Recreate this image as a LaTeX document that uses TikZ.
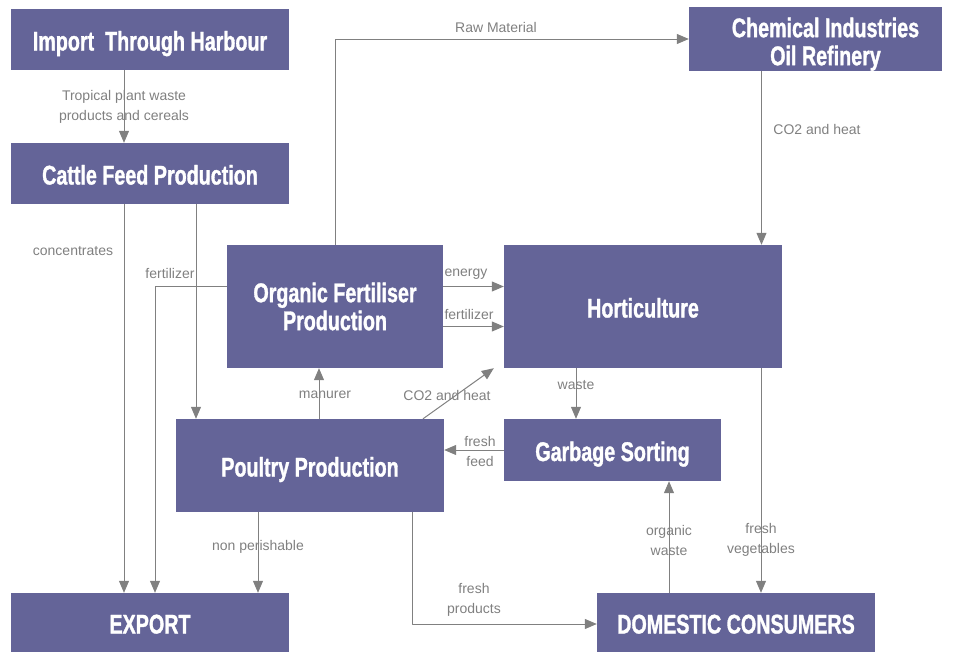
\documentclass[tikz,border=0pt]{standalone}
\usepackage{fontspec}
\setmainfont{Liberation Sans}
\newfontfamily\boxfont[FakeStretch=0.73,BoldFeatures={FakeBold=1.2}]{Liberation Sans}
\usetikzlibrary{arrows.meta}
\definecolor{boxfill}{HTML}{646498}
\definecolor{flowgray}{HTML}{808080}
\begin{document}
\begin{tikzpicture}[>={Triangle[length=12bp,width=10bp]},line join=bevel,
  box/.style={fill=boxfill,draw=none,text=white,inner sep=0pt,align=center,
    font=\boxfont\bfseries\fontsize{27bp}{28bp}\selectfont},
  oneline/.style={text height=22bp,text depth=0pt},
  lbl/.style={text=flowgray,inner sep=0pt,align=center,
    font=\fontsize{14bp}{20bp}\selectfont},
  flow/.style={flowgray,line width=1bp,->}]
\useasboundingbox (0bp,0bp) rectangle (955bp,-652bp);
%%
\node (harbour) at (150bp,-39.5bp) [box,oneline,minimum width=278bp,minimum height=61bp] {Import\ \ Through Harbour};
  \node (cattle) at (150bp,-173.5bp) [box,oneline,minimum width=278bp,minimum height=61bp] {Cattle Feed Production};
  \node (chem) at (815.5bp,-39bp) [box,minimum width=253bp,minimum height=62bp] {\hspace*{20bp}\rule{0pt}{30bp}Chemical Industries\\\hspace*{20bp}Oil Refinery};
  \node (organic) at (335bp,-306.5bp) [box,minimum width=216bp,minimum height=123bp] {Organic Fertiliser\\Production};
  \node (hort) at (643bp,-306.5bp) [box,oneline,minimum width=278bp,minimum height=123bp] {Horticulture};
  \node (garbage) at (612.5bp,-450bp) [box,oneline,minimum width=217bp,minimum height=62bp] {Garbage Sorting};
  \node (poultry) at (310bp,-465.5bp) [box,oneline,minimum width=268bp,minimum height=93bp] {Poultry Production};
  \node (export) at (150bp,-622.5bp) [box,oneline,minimum width=278bp,minimum height=59bp] {EXPORT};
  \node (domestic) at (736bp,-622.5bp) [box,oneline,minimum width=278bp,minimum height=59bp] {DOMESTIC CONSUMERS};
%
  \draw [flow] ([xshift=-26bp]harbour.south) -- ([xshift=-26bp]cattle.north);
  \draw [flow] ([xshift=-26bp]cattle.south) -- ([xshift=-26bp]export.north);
  \draw [flow] ([xshift=46bp]cattle.south) -- ([xshift=46bp]cattle.south |- poultry.north);
  \draw [flow] ([yshift=20bp]organic.west) -| ([xshift=5bp]export.north);
  \draw [flow] (organic.north) |- (chem.west);
  \draw [flow] ([xshift=-54bp]chem.south) -- ([xshift=-54bp]chem.south |- hort.north);
  \draw [flow] ([yshift=20bp]organic.east) -- ([yshift=20bp]organic.east -| hort.west);
  \draw [flow] ([yshift=-20bp]organic.east) -- ([yshift=-20bp]organic.east -| hort.west);
  \draw [flow] ([xshift=9bp]poultry.north) -- ([xshift=9bp]poultry.north |- organic.south);
  \draw [flow] ([xshift=113bp]poultry.north) -- ([xshift=-10bp]hort.south west);
  \draw [flow] ([xshift=-67bp]hort.south) -- ([xshift=-67bp]hort.south |- garbage.north);
  \draw [flow] (garbage.west) -- (garbage.west -| poultry.east);
  \draw [flow] ([xshift=-52bp]poultry.south) -- ([xshift=-52bp]poultry.south |- export.north);
  \draw [flow] ([xshift=102bp]poultry.south) |- ([yshift=-1.5bp]domestic.west);
  \draw [flow] ([xshift=118bp]hort.south) -- ([xshift=118bp]hort.south |- domestic.north);
  \draw [flow] ([xshift=-67bp]domestic.north) -- ([xshift=-67bp]domestic.north |- garbage.south);
%
  \node (lbl_tropical) at (124bp,-107bp) [lbl] {Tropical plant waste\\products and cereals};
  \node (lbl_raw) at (496bp,-27bp) [lbl] {Raw Material};
  \node (lbl_co2chem) at (817bp,-129bp) [lbl] {CO2 and heat};
  \node (lbl_conc) at (73bp,-251bp) [lbl] {concentrates};
  \node (lbl_fertcattle) at (170bp,-273bp) [lbl] {fertilizer};
  \node (lbl_energy) at (466bp,-274bp) [lbl] {energy};
  \node (lbl_fertorg) at (469bp,-314bp) [lbl] {fertilizer};
  \node (lbl_manure) at (325bp,-395bp) [lbl] {manurer};
  \node (lbl_co2poultry) at (447bp,-395bp) [lbl] {CO2 and heat};
  \node (lbl_waste) at (576bp,-385bp) [lbl] {waste};
  \node (lbl_feed) at (480bp,-451bp) [lbl] {fresh\\feed};
  \node (lbl_nonper) at (258bp,-547bp) [lbl] {non perishable};
  \node (lbl_freshprod) at (474bp,-600bp) [lbl] {fresh\\products};
  \node (lbl_orgwaste) at (669bp,-540bp) [lbl] {organic\\waste};
  \node (lbl_freshveg) at (761bp,-540bp) [lbl] {fresh\\vegetables};
%
\end{tikzpicture}
\end{document}
